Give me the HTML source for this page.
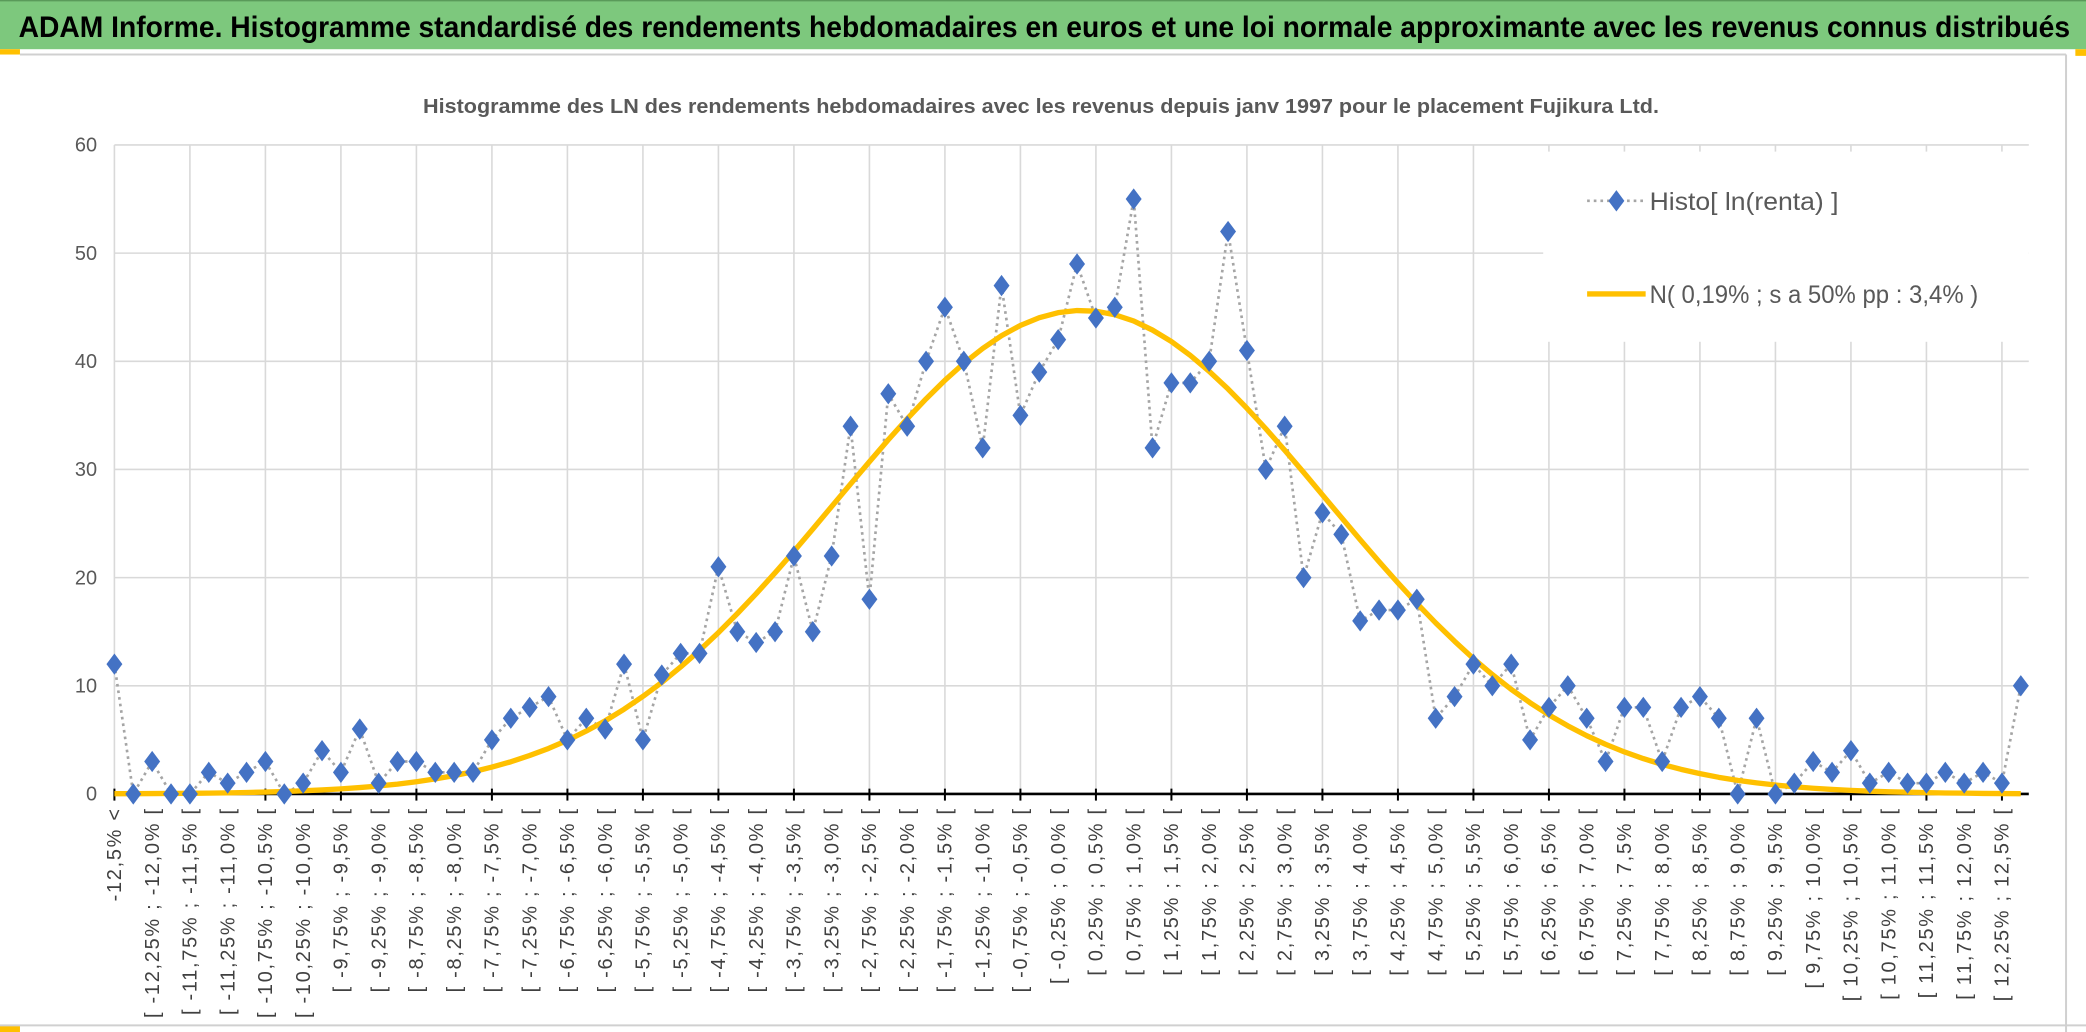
<!DOCTYPE html>
<html><head><meta charset="utf-8"><style>
html,body{margin:0;padding:0;background:#fff;}
svg{display:block;}
text{font-family:"Liberation Sans",sans-serif;}
</style></head><body>
<svg id="chart" width="2086" height="1032" viewBox="0 0 1568 776" preserveAspectRatio="none" xmlns="http://www.w3.org/2000/svg">
<rect x="0" y="0" width="1568" height="776" fill="#ffffff"/>
<rect x="0" y="0" width="1568" height="37" fill="#7dc87d"/>
<line x1="0" y1="0.5" x2="1568" y2="0.5" stroke="#5a9a5a" stroke-width="1"/>
<text x="14" y="28" font-size="22" font-weight="bold" fill="#000" textLength="1542" lengthAdjust="spacingAndGlyphs">ADAM Informe. Histogramme standardisé des rendements hebdomadaires en euros et une loi normale approximante avec les revenus connus distribués</text>
<rect x="0" y="37" width="15" height="4" fill="#ffc000"/>
<rect x="1560" y="37" width="8" height="5" fill="#ffc000"/>
<rect x="0" y="771" width="15" height="5" fill="#ffc000"/>
<line x1="15" y1="41" x2="1553" y2="41" stroke="#d0d0d0" stroke-width="1.5"/>
<line x1="1553" y1="41" x2="1553" y2="776" stroke="#d0d0d0" stroke-width="1.5"/>
<line x1="0" y1="771" x2="1568" y2="771" stroke="#d0d0d0" stroke-width="1.5"/>
<text x="318" y="85" font-size="15" font-weight="bold" fill="#595959" textLength="929" lengthAdjust="spacingAndGlyphs">Histogramme des LN des rendements hebdomadaires avec les revenus depuis janv 1997 pour le placement Fujikura Ltd.</text>
<g id="grid"></g>
<g id="yaxis"></g>
<rect x="1160" y="114" width="365" height="143" fill="#ffffff"/>
<g id="series"></g>
<g id="xaxis"></g>
<g>
  <g>
    <line x1="1193" y1="151" x2="1237" y2="151" stroke="#a5a5a5" stroke-width="2" stroke-dasharray="2 3"/>
    <polygon points="1215,143 1221,151 1215,159 1209,151" fill="#4472c4"/>
    <text x="1240" y="158" font-size="19" fill="#595959" textLength="142" lengthAdjust="spacingAndGlyphs">Histo[ ln(renta) ]</text>
  </g>
  <g>
    <line x1="1193" y1="221" x2="1237" y2="221" stroke="#ffc000" stroke-width="4"/>
    <text x="1240" y="228" font-size="19" fill="#595959" textLength="247" lengthAdjust="spacingAndGlyphs">N( 0,19% ; s a 50% pp : 3,4% )</text>
  </g>
</g>
</svg>
<script>
const histoValues = [12,0,3,0,0,2,1,2,3,0,1,4,2,6,1,3,3,2,2,2,5,7,8,9,5,7,6,12,5,11,13,13,21,15,14,15,22,15,22,34,18,37,34,40,45,40,32,47,35,39,42,49,44,45,55,32,38,38,40,52,41,30,34,20,26,24,16,17,17,18,7,9,12,10,12,5,8,10,7,3,8,8,3,8,9,7,0,7,0,1,3,2,4,1,2,1,1,2,1,2,1,10];
const binStart = [-12.5];
const binWidth = [0.25];
const normMean = [0.19];
const normSd = [3.25];
const normPeak = [44.7];
const yTicks = [0,10,20,30,40,50,60];

const NS = "http://www.w3.org/2000/svg";
const X0 = 86, X1 = 1519, Y0 = 597, Y60 = 109, PR = 1525;
const n = histoValues.length;
function xs(i){ return X0 + i * (X1 - X0) / (n - 1); }
function ys(v){ return Y0 - v * (Y0 - Y60) / 60; }
function mk(tag, attrs, parent){
  const e = document.createElementNS(NS, tag);
  for (const k in attrs) e.setAttribute(k, attrs[k]);
  parent.appendChild(e); return e;
}
function fmt(v){
  const r = Math.round(v*100)/100;
  const s = (Math.abs(r*2 - Math.round(r*2)) < 1e-9) ? r.toFixed(1) : r.toFixed(2);
  return s.replace('.', ',').replace('-0,0','0,0') + '%';
}
function catLabel(i){
  if (i === 0) return fmt(binStart[0]) + ' <';
  const lo = binStart[0] + binWidth[0]*(i-1), hi = lo + binWidth[0];
  return '[ ' + fmt(lo) + ' ; ' + fmt(hi) + ' [';
}

const grid = document.getElementById('grid');
const yax = document.getElementById('yaxis');
yTicks.forEach(t => {
  if (t > 0) {
    const gl = mk('line', {x1:X0, y1:ys(t), x2:PR, y2:ys(t), stroke:'#d9d9d9', 'stroke-width':1.2}, grid);
    
    
  }
  const tx = mk('text', {x:73, y:ys(t)+5, 'font-size':15, fill:'#595959', 'text-anchor':'end'}, yax);
  tx.textContent = t;
  
  
});
for (let i = 0; i < n; i += 4) {
  const gl = mk('line', {x1:xs(i), y1:Y60, x2:xs(i), y2:Y0, stroke:'#d9d9d9', 'stroke-width':1.2}, grid);
  
  
}

const ser = document.getElementById('series');
let pd = '';
histoValues.forEach((v,i) => { pd += (i?'L':'M') + xs(i).toFixed(1) + ' ' + ys(v).toFixed(1); });
const hl = mk('path', {d:pd, fill:'none', stroke:'#a5a5a5', 'stroke-width':2, 'stroke-dasharray':'2 3'}, ser);



let nd = '';
for (let i = 0; i < n; i++) {
  const c = binStart[0] + binWidth[0]*(i - 0.5);
  const z = (c - normMean[0]) / normSd[0];
  const v = normPeak[0] * Math.exp(-0.5*z*z);
  nd += (i?'L':'M') + xs(i).toFixed(1) + ' ' + ys(v).toFixed(1);
}

const xax = document.getElementById('xaxis');
const axl = mk('line', {x1:X0, y1:Y0, x2:PR, y2:Y0, stroke:'#000', 'stroke-width':2}, ser);


for (let i = 0; i < n; i += 4) {
  const tk = mk('line', {x1:xs(i), y1:Y0-4, x2:xs(i), y2:Y0+5, stroke:'#000', 'stroke-width':1.5}, ser);
  
  
}

const nl = mk('path', {d:nd, fill:'none', stroke:'#ffc000', 'stroke-width':4, 'stroke-linejoin':'round'}, ser);



histoValues.forEach((v,i) => {
  const x = xs(i), y = ys(v);
  const p = mk('polygon', {points:`${x},${y-8} ${x+6},${y} ${x},${y+8} ${x-6},${y}`, fill:'#4472c4'}, ser);
  
  
});

for (let i = 0; i <= 100 && i < n; i += 2) {
  const x = xs(i) + 5, y = 607;
  const t = mk('text', {x:x, y:y, 'font-size':15, 'letter-spacing':1.3, fill:'#404040', 'text-anchor':'end', transform:`rotate(-90 ${x} ${y})`}, xax);
  t.textContent = catLabel(i);
  
  
}
</script>
</body></html>
